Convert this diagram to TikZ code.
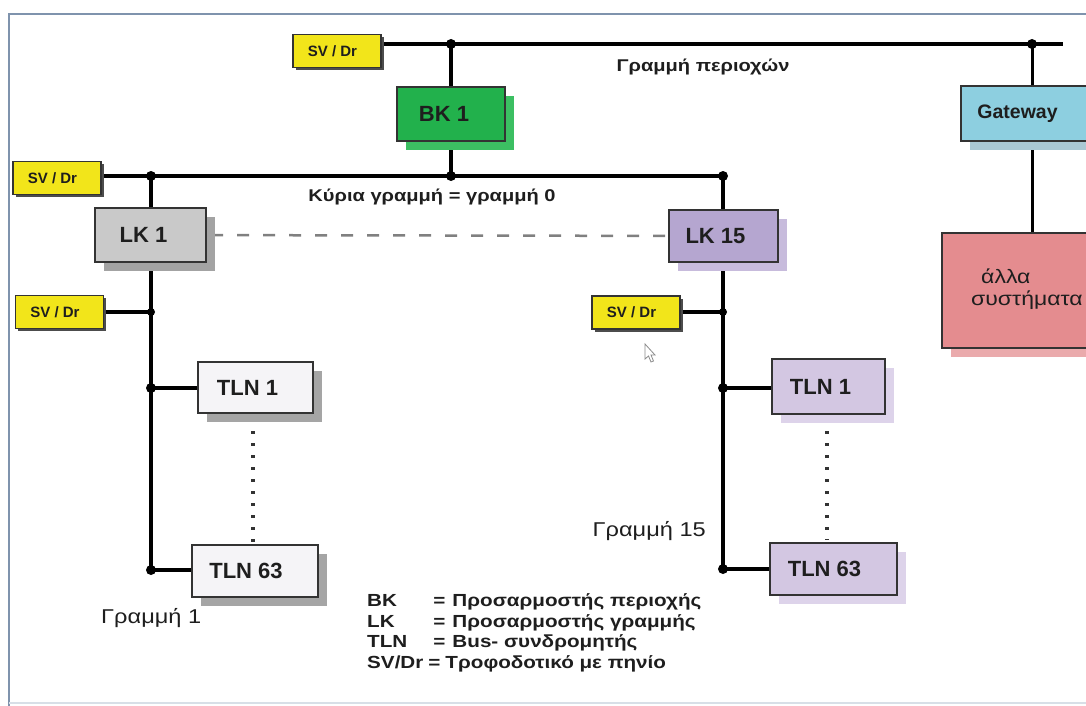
\documentclass[tikz,border=0pt]{standalone}
\usepackage{fontspec}
\setmainfont{Liberation Sans}
\newfontfamily\widefont[FakeStretch=1.18]{Liberation Sans}
\usetikzlibrary{shadows}
\pgfdeclarelayer{paper}
\pgfdeclarelayer{bg}
\pgfsetlayers{paper,bg,main}
\definecolor{svyellow}{HTML}{F2E51A}
\definecolor{bkgreen}{HTML}{22B14C}
\definecolor{bkshadow}{HTML}{3CBF62}
\definecolor{lkgray}{HTML}{C9C9C9}
\definecolor{lkgrayshadow}{HTML}{A3A3A3}
\definecolor{lkviolet}{HTML}{B5A6D0}
\definecolor{lkvioletshadow}{HTML}{C7BBDC}
\definecolor{tlnwhite}{HTML}{F5F4F7}
\definecolor{tlnwhiteshadow}{HTML}{A5A5A5}
\definecolor{tlnviolet}{HTML}{D3C7E2}
\definecolor{tlnvioletshadow}{HTML}{DDD3EA}
\definecolor{gwblue}{HTML}{8DCFE0}
\definecolor{gwshadow}{HTML}{A9C8D4}
\definecolor{sysred}{HTML}{E48C8F}
\definecolor{sysshadow}{HTML}{EAAAAC}
\definecolor{framecol}{HTML}{7F93AD}
\definecolor{inkcol}{HTML}{1E1E1E}
\begin{document}
\begin{tikzpicture}[x=1pt,y=-1pt,
  box/.style={rectangle, draw=black!80, line width=1.8pt, inner sep=0pt,
    text=inkcol, font=\bfseries\fontsize{22}{24}\selectfont},
  shade/.style={drop shadow={shadow xshift=9pt, shadow yshift=-9pt, fill=#1, opacity=1}},
  svbox/.style={box, fill=svyellow, minimum width=88pt, minimum height=33pt,
    font=\bfseries\fontsize{15}{17}\selectfont,
    drop shadow={shadow xshift=2.5pt, shadow yshift=-2.5pt, fill=black!70, opacity=1}},
  bus/.style={line width=3.5pt, black},
  jdot/.style={circle, fill=black, inner sep=0pt, minimum size=10pt},
  dotline/.style={black!80, line width=3.2pt, dash pattern=on 2.5pt off 9.5pt},
  caption/.style={inner sep=0pt, text=inkcol, font=\widefont\bfseries\fontsize{17}{19}\selectfont},
  linelabel/.style={inner sep=0pt, text=inkcol, font=\widefont\fontsize{20}{22}\selectfont},
]
\useasboundingbox (0,0) rectangle (1086,706);
\clip (0,0) rectangle (1086,706);
\begin{pgfonlayer}{paper}
  \fill[white] (0,0) rectangle (1086,706);
\end{pgfonlayer}

% outer frame
\draw[framecol, line width=2.5pt] (1100,14) -- (9,14) -- (9,720);
\draw[framecol!30, line width=2pt] (9,703) -- (1100,703);

% power supplies
\node[svbox] (svtop)   at (337,51)    {SV / Dr\hspace*{9pt}};
\node[svbox] (svmain)  at (57,178)    {SV / Dr\hspace*{9pt}};
\node[svbox] (svl1)    at (59.5,312)  {SV / Dr\hspace*{9pt}};
\node[svbox] (svl15)   at (636,312.5) {SV / Dr\hspace*{9pt}};

% couplers
\node[box, fill=bkgreen, shade=bkshadow, minimum width=108pt, minimum height=54pt]
  (bk1) at (451,114) {BK 1\hspace*{14pt}};
\node[box, fill=lkgray, shade=lkgrayshadow, minimum width=111pt, minimum height=54pt]
  (lk1) at (150.5,235) {LK 1\hspace*{14pt}};
\node[box, fill=lkviolet, shade=lkvioletshadow, minimum width=109pt, minimum height=52pt]
  (lk15) at (723.5,236) {LK 15\hspace*{16pt}};

% bus devices of line 1
\node[box, fill=tlnwhite, shade=tlnwhiteshadow, minimum width=115pt, minimum height=51pt]
  (tln1a) at (255.5,387.5) {TLN 1\hspace*{16pt}};
\node[box, fill=tlnwhite, shade=tlnwhiteshadow, minimum width=126pt, minimum height=52pt]
  (tln63a) at (255,571) {TLN 63\hspace*{18pt}};

% bus devices of line 15
\node[box, fill=tlnviolet, shade=tlnvioletshadow, minimum width=113pt, minimum height=55pt]
  (tln1b) at (828.5,386.5) {TLN 1\hspace*{16pt}};
\node[box, fill=tlnviolet, shade=tlnvioletshadow, minimum width=127pt, minimum height=52pt]
  (tln63b) at (833.5,569) {TLN 63\hspace*{18pt}};

% gateway and foreign systems
\node[box, fill=gwblue, shade=gwshadow, minimum width=139pt, minimum height=55pt,
  font=\bfseries\fontsize{19.5}{21}\selectfont]
  (gw) at (1030.5,113.5) {Gateway\hspace*{26pt}};
\node[box, fill=sysred, shade=sysshadow, minimum width=183pt, minimum height=115pt]
  (sys) at (1033.5,290.5) {};
\node[linelabel, anchor=west, align=left, font=\widefont\fontsize{19.5}{22.5}\selectfont]
  (systext) at (971,289) {\hspace*{10pt}άλλα\\συστήματα};

% junctions
\node[jdot] (jt1) at (451,44) {};
\node[jdot] (jt2) at (1032,44) {};
\coordinate (tend) at (1063,44);
\node[jdot] (jm1) at (151,176) {};
\node[jdot] (jm2) at (451,176) {};
\node[jdot] (jm3) at (723,176) {};
\node[jdot, minimum size=8pt] (ja1) at (151,312) {};
\node[jdot] (ja2) at (151,388) {};
\node[jdot] (ja3) at (151,570) {};
\node[jdot, minimum size=8pt] (jb1) at (723,312) {};
\node[jdot] (jb2) at (723,388) {};
\node[jdot] (jb3) at (723,569) {};

% connectors behind the boxes
\begin{pgfonlayer}{bg}
  \draw[bus] (svtop.east |- jt1) -- (jt1.center) -- (jt2.center) -- (tend);
  \draw[bus] (jt1.center) -- (jm2.center);
  \draw[line width=3pt] (jt2.center) -- (jt2.center |- sys.center);
  \draw[bus] (svmain.east |- jm1) -- (jm1.center) -- (jm2.center) -- (jm3.center);
  \draw[bus] (jm1.center) -- (ja3.center);
  \draw[bus] (jm3.center) -- (jb3.center);
  \draw[bus] (svl1.east |- ja1) -- (ja1.center);
  \draw[bus] (ja2.center) -- (ja2 -| tln1a.west);
  \draw[bus] (ja3.center) -- (ja3 -| tln63a.west);
  \draw[bus] (svl15.east |- jb1) -- (jb1.center);
  \draw[bus] (jb2.center) -- (jb2 -| tln1b.west);
  \draw[bus] (jb3.center) -- (jb3 -| tln63b.west);
  \draw[black!50, line width=2.5pt, dash pattern=on 12pt off 14pt, dash phase=17.5pt]
    (lk1.center) -- (lk15.center);
  \draw[dotline] (253,419) -- (253,542);
  \draw[dotline] (827,419) -- (827,540);
\end{pgfonlayer}

% line captions
\node[caption] (areal) at (703,67) {Γραμμή περιοχών};
\node[caption] (mainl) at (432,197) {Κύρια γραμμή = γραμμή 0};
\node[linelabel, anchor=west] (line1) at (101,618) {Γραμμή 1};
\node[linelabel, anchor=east] (line15) at (706,531) {Γραμμή 15};

% legend
\node[caption, anchor=north west, align=left, font=\widefont\bfseries\fontsize{17.5}{20.5}\selectfont]
  (legend) at (367,592) {%
  \begin{tabular}{@{}l@{\hspace{5pt}}l@{}}
    BK    & \hspace*{5pt}=\hspace{7pt}Προσαρμοστής περιοχής\\
    LK    & \hspace*{5pt}=\hspace{7pt}Προσαρμοστής γραμμής\\
    TLN   & \hspace*{5pt}=\hspace{7pt}Bus- συνδρομητής\\
    SV/Dr & =\hspace{5pt}Τροφοδοτικό με πηνίο
  \end{tabular}};

% mouse pointer
\draw[black!45, fill=white, line width=0.8pt] (645,344) -- (645,359) -- (648.5,356)
  -- (651,362) -- (653.5,361) -- (651,355) -- (655,355) -- cycle;
\end{tikzpicture}
\end{document}
